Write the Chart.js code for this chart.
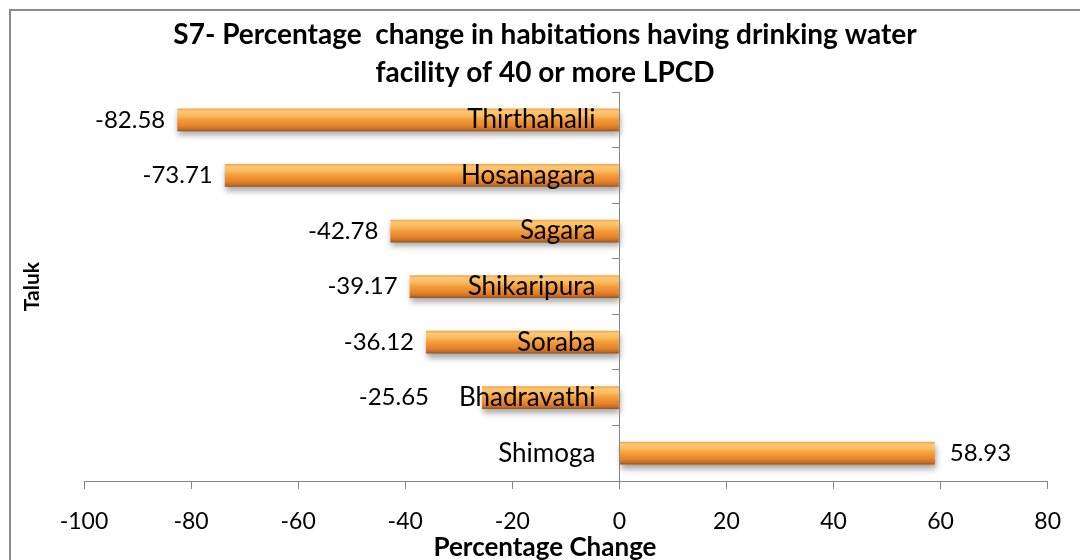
<!DOCTYPE html>
<html>
<head>
<meta charset="utf-8">
<title>S7 - Percentage change in habitations</title>
<script src="https://cdn.jsdelivr.net/npm/chart.js@4.4.1/dist/chart.umd.min.js"></script>
<style>
  html, body { margin: 0; padding: 0; background: #fff; }
  canvas { display: block; }
</style>
</head>
<body>
<canvas id="talukChart" width="1080" height="560"></canvas>
<script>
// taluks, top to bottom
const taluks = ['Thirthahalli', 'Hosanagara', 'Sagara', 'Shikaripura', 'Soraba', 'Bhadravathi', 'Shimoga'];
const pctChange = [-82.58, -73.71, -42.78, -39.17, -36.12, -25.65, 58.93];
const xTickValues = [-100, -80, -60, -40, -20, 0, 20, 40, 60, 80];

const FONT = 'Lato, "Liberation Sans", sans-serif';
const NAME_FONT = '26px ' + FONT;
const VALUE_FONT = '24px ' + FONT;
const AXIS_GREY = '#868686';
const BAR_PCT = 0.41;
const FRAME_INSET = 10;
const NAME_GAP = 24;

// vertical orange gradient for each bar, sized to the bar itself
function barFill(c) {
  const chart = c.chart;
  const yScale = chart.scales.y;
  if (!yScale || c.dataIndex === undefined || !yScale.height) return '#f29a3a';
  const cy = yScale.getPixelForValue(c.dataIndex);
  const half = (yScale.height / taluks.length) * BAR_PCT / 2;
  const g = chart.ctx.createLinearGradient(0, cy - half, 0, cy + half);
  g.addColorStop(0, '#f2a24a');
  g.addColorStop(0.12, '#fcc872');
  g.addColorStop(0.3, '#fabb5e');
  g.addColorStop(0.5, '#f39c3b');
  g.addColorStop(0.75, '#e5852c');
  g.addColorStop(0.9, '#c96f25');
  g.addColorStop(1, '#8e5321');
  return g;
}

// frame, bar shadow, value labels, taluk names beside the zero line, x title
const decor = {
  id: 'decor',
  beforeDraw(chart) {
    const ctx = chart.ctx;
    ctx.save();
    ctx.fillStyle = '#fff';
    ctx.fillRect(0, 0, chart.width, chart.height);
    ctx.strokeStyle = '#8a8a8a';
    ctx.lineWidth = 2;
    ctx.strokeRect(FRAME_INSET, FRAME_INSET, chart.width + 20, chart.height + 20);
    ctx.restore();
  },
  beforeDatasetsDraw(chart) {
    const ctx = chart.ctx;
    ctx.save();
    ctx.shadowColor = 'rgba(0,0,0,0.35)';
    ctx.shadowBlur = 6;
    ctx.shadowOffsetY = 4;
    ctx.shadowOffsetX = 1;
  },
  afterDatasetsDraw(chart) {
    const ctx = chart.ctx;
    ctx.restore();
    const zeroX = chart.scales.x.getPixelForValue(0);
    ctx.save();
    ctx.fillStyle = '#000';
    ctx.textBaseline = 'middle';
    chart.getDatasetMeta(0).data.forEach((bar, i) => {
      const v = pctChange[i];
      const txt = v.toFixed(2);
      if (v < 0) {
        // keep the value clear of the taluk name sitting at the zero line
        ctx.font = NAME_FONT;
        const nameLeft = zeroX - NAME_GAP - ctx.measureText(taluks[i]).width;
        ctx.font = VALUE_FONT;
        ctx.textAlign = 'right';
        ctx.fillText(txt, Math.min(bar.x - 12, nameLeft - 30), bar.y);
      } else {
        ctx.font = VALUE_FONT;
        ctx.textAlign = 'left';
        ctx.fillText(txt, bar.x + 15, bar.y);
      }
    });
    ctx.restore();
  },
  afterDraw(chart) {
    const ctx = chart.ctx;
    const zeroX = chart.scales.x.getPixelForValue(0);
    const yScale = chart.scales.y;
    ctx.save();
    ctx.fillStyle = '#000';
    ctx.textBaseline = 'middle';
    ctx.textAlign = 'right';
    ctx.font = NAME_FONT;
    taluks.forEach((name, i) => {
      ctx.fillText(name, zeroX - NAME_GAP, yScale.getPixelForValue(i));
    });
    ctx.textAlign = 'center';
    ctx.font = 'bold 26px ' + FONT;
    ctx.fillText('Percentage Change', (FRAME_INSET + chart.width) / 2, chart.height - 12);
    ctx.restore();
  }
};

const ctx = document.getElementById('talukChart').getContext('2d');
const chart = new Chart(ctx, {
  type: 'bar',
  data: {
    labels: taluks,
    datasets: [{
      label: 'Percentage Change',
      data: pctChange,
      backgroundColor: barFill,
      borderWidth: 0,
      barPercentage: BAR_PCT,
      categoryPercentage: 1,
      yAxisID: 'y'
    }]
  },
  options: {
    indexAxis: 'y',
    responsive: false,
    animation: false,
    layout: { padding: { top: 10, left: FRAME_INSET, right: 0, bottom: 0 } },
    plugins: {
      legend: { display: false },
      tooltip: { enabled: false },
      title: {
        display: true,
        text: ['S7- Percentage  change in habitations having drinking water', 'facility of 40 or more LPCD'],
        color: '#000',
        font: { family: FONT, size: 28, weight: 'bold', lineHeight: 1.36 },
        padding: { top: 6, bottom: 0 }
      }
    },
    scales: {
      x: {
        type: 'linear',
        position: 'bottom',
        min: xTickValues[0],
        max: xTickValues[xTickValues.length - 1],
        afterBuildTicks(scale) {
          scale.ticks = xTickValues.map(v => ({ value: v }));
        },
        afterFit(scale) { scale.height = 79; },
        grid: { drawOnChartArea: false, drawTicks: true, tickLength: 8, color: AXIS_GREY },
        border: { color: AXIS_GREY },
        ticks: { color: '#000', font: { family: FONT, size: 23 }, padding: 19, maxRotation: 0 }
      },
      y: {
        type: 'category',
        position: { x: 0 },
        grid: { drawOnChartArea: false, drawTicks: true, tickLength: 7, color: AXIS_GREY, offset: true },
        border: { color: AXIS_GREY, z: 1 },
        ticks: { display: false }
      },
      yTitle: {
        type: 'category',
        position: 'left',
        afterFit(scale) { scale.width = 74; },
        grid: { display: false, drawTicks: false },
        border: { display: false },
        ticks: { display: false },
        title: {
          display: true,
          text: 'Taluk',
          color: '#000',
          font: { family: FONT, size: 21, weight: 'bold' },
          padding: { top: 10, bottom: 0 }
        }
      },
      yRightGap: {
        type: 'category',
        position: 'right',
        afterFit(scale) { scale.width = 32; },
        grid: { display: false, drawTicks: false },
        border: { display: false },
        ticks: { display: false }
      }
    }
  },
  plugins: [decor]
});
</script>
</body>
</html>
